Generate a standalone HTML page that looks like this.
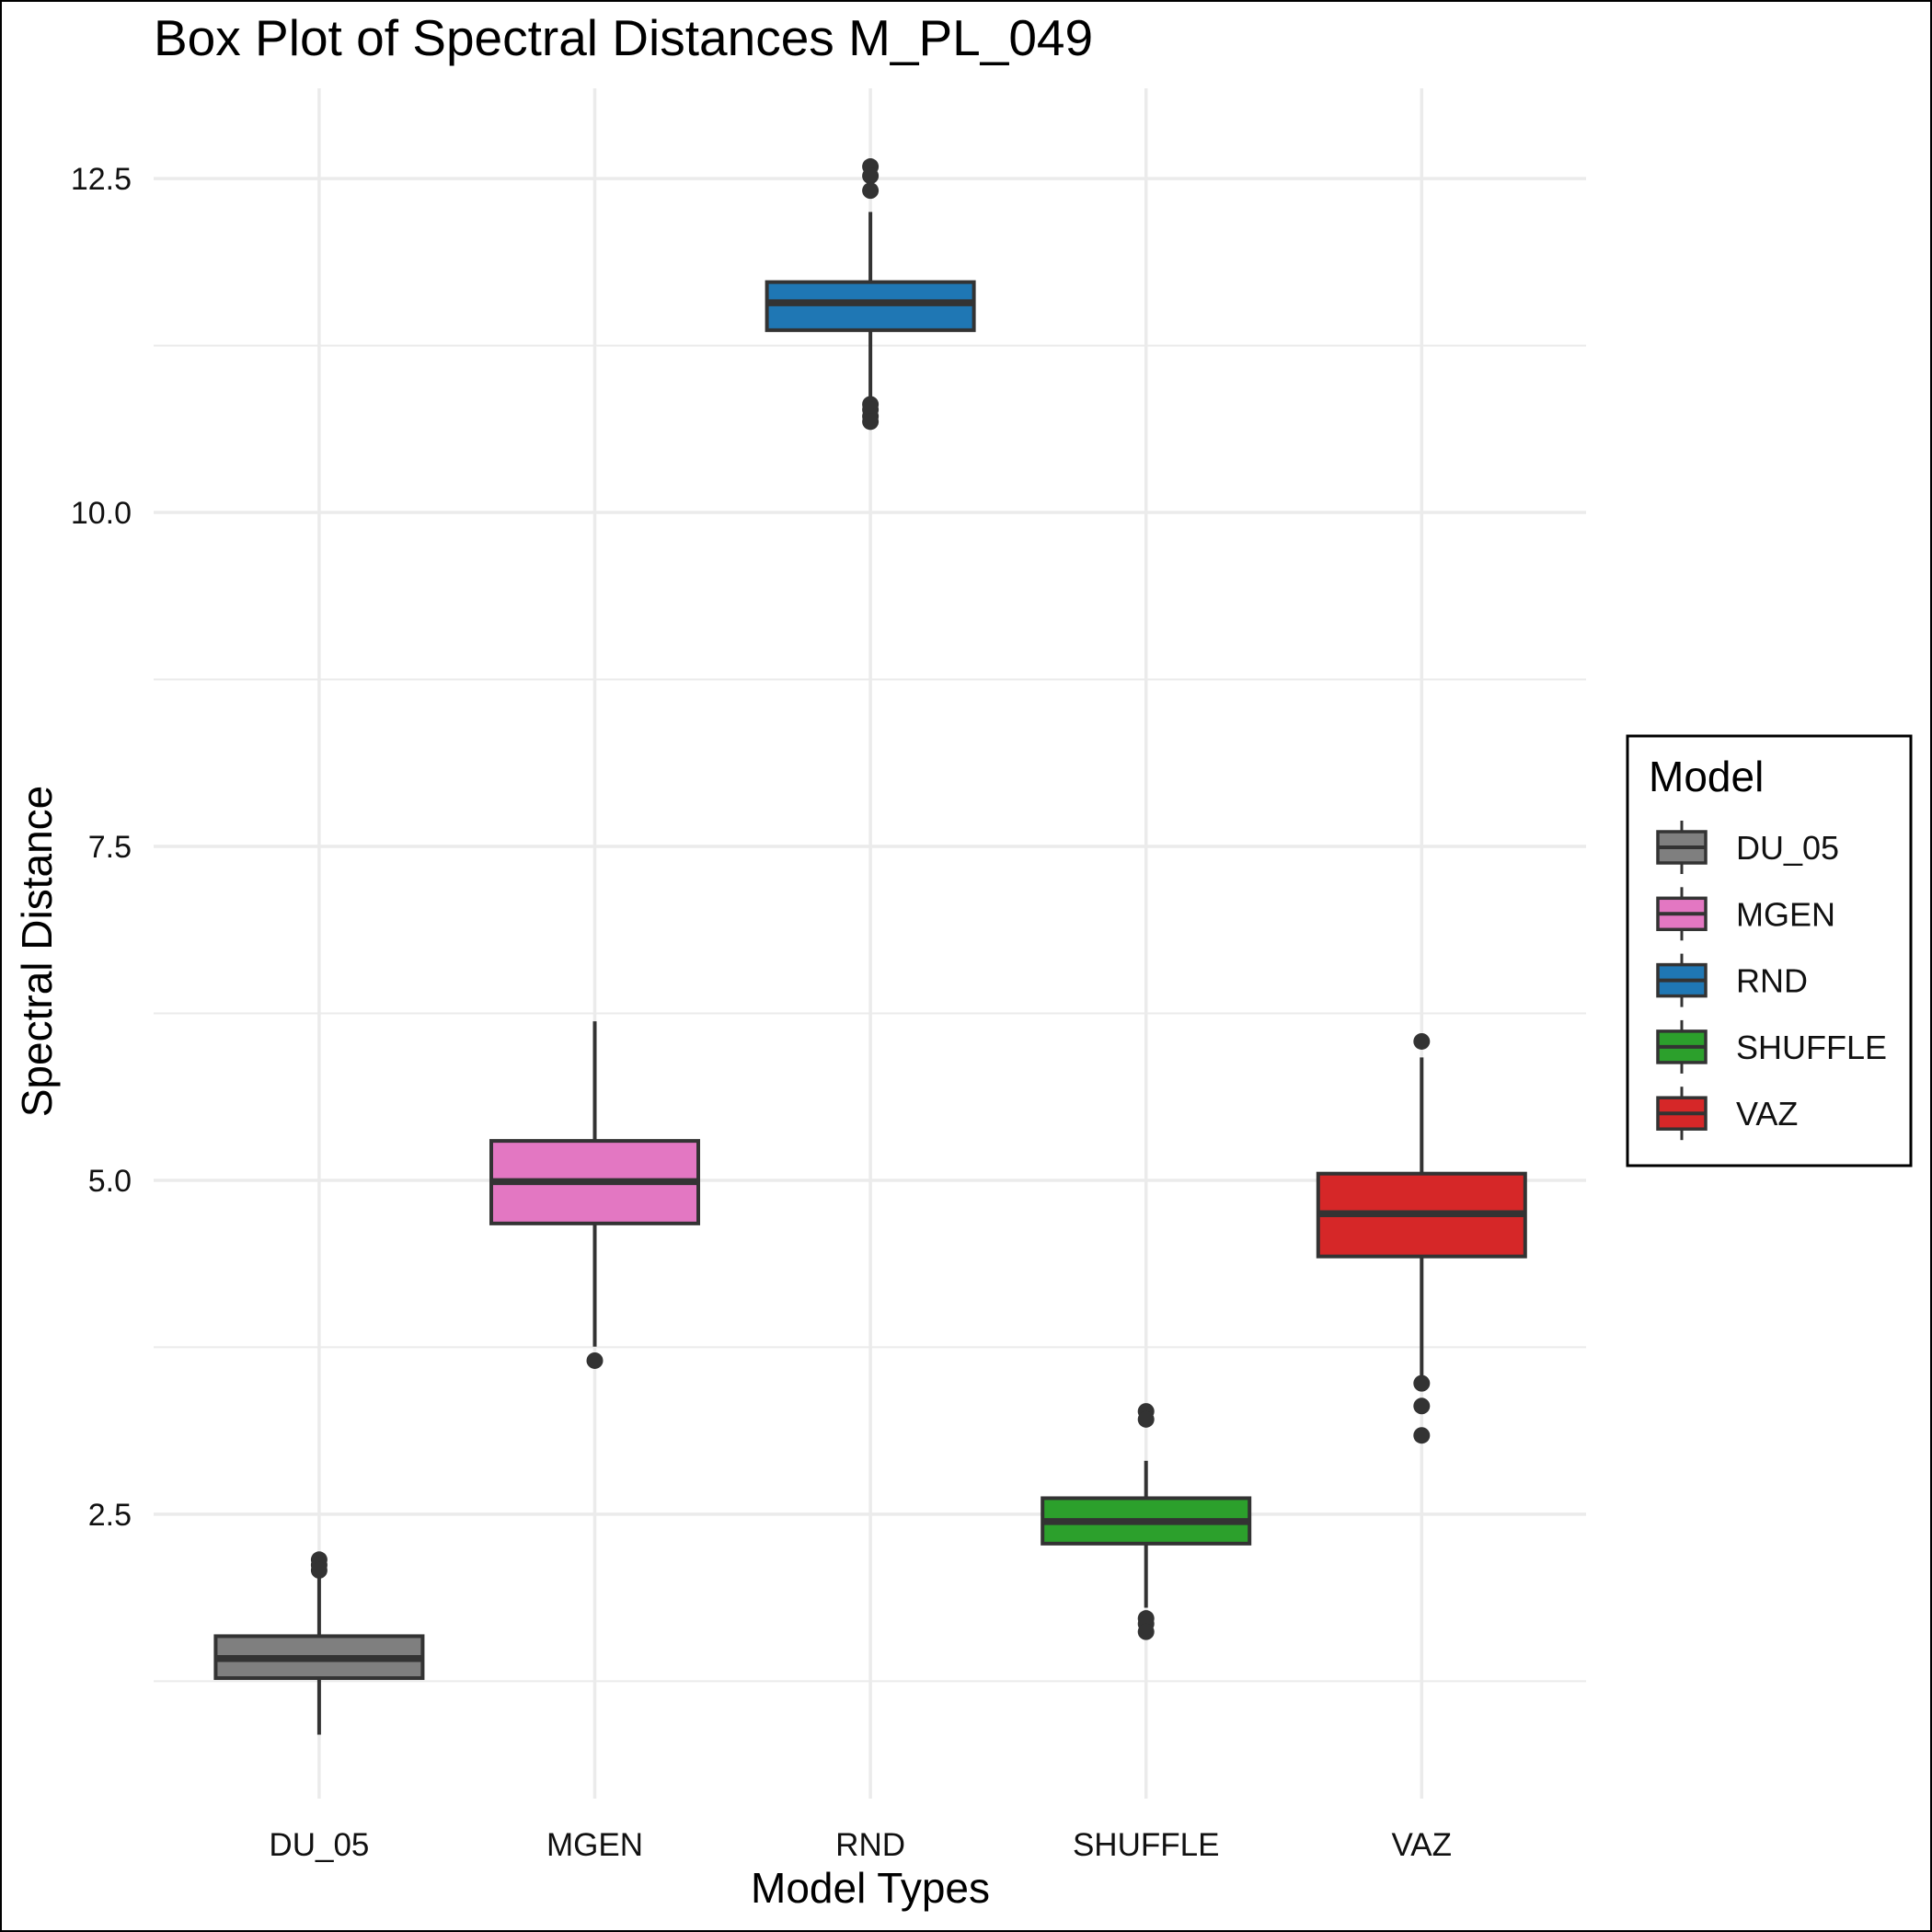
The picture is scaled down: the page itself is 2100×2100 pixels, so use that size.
<!DOCTYPE html>
<html><head><meta charset="utf-8"><style>
html,body{margin:0;padding:0;background:#fff}
svg{display:block;font-family:"Liberation Sans",Arial,sans-serif}
</style></head><body>
<svg id="chart" width="2100" height="2100" viewBox="0 0 2100 2100">
<rect x="1" y="1" width="2098" height="2098" fill="#fff" stroke="#000" stroke-width="2"/>
<text x="167" y="60" font-size="55" fill="#000">Box Plot of Spectral Distances M_PL_049</text>
<g id="grid"></g>
<g id="boxes"></g>
<text x="946" y="2068" font-size="46" text-anchor="middle">Model Types</text>
<text transform="translate(56,1034) rotate(-90)" font-size="46" text-anchor="middle">Spectral Distance</text>
<g id="legend">
<rect x="1769" y="800" width="308" height="467" fill="#fff" stroke="#000" stroke-width="3"/>
<text x="1792" y="860" font-size="46">Model</text>
</g>
</svg>
<script>
const categories=["DU_05","MGEN","RND","SHUFFLE","VAZ"];
const colors=["#7f7f7f","#e377c2","#1f77b4","#2ca02c","#d62728"];
const lowerWhisker=[0.85,3.755,10.86,1.80,3.49];
const q1=[1.273,4.677,11.365,2.28,4.43];
const median=[1.42,4.99,11.57,2.445,4.75];
const q3=[1.587,5.295,11.725,2.62,5.05];
const upperWhisker=[2.03,6.19,12.25,2.90,5.92];
const outliers=[[2.16,2.12,2.08],[3.65],[12.59,12.52,12.41,10.81,10.77,10.72,10.68],[3.27,3.21,1.72,1.68,1.62],[6.04,3.48,3.31,3.09]];
const yTicks=[2.5,5.0,7.5,10.0,12.5];
const yTickLabels=["2.5","5.0","7.5","10.0","12.5"];
const yMinor=[1.25,3.75,6.25,8.75,11.25];

const NS="http://www.w3.org/2000/svg";
const y=v=>1645.9-(v-2.5)*145.18;
const x=i=>346.9+i*299.6;
const L=167,R=1724,T=96,B=1955,BW=225;
function mk(tag,attrs,parent){const e=document.createElementNS(NS,tag);for(const k in attrs)e.setAttribute(k,attrs[k]);parent.appendChild(e);return e;}
const grid=document.getElementById('grid');
yMinor.forEach(v=>{const l=mk('line',{x1:L,x2:R,y1:y(v),y2:y(v),stroke:'#ebebeb','stroke-width':2},grid);

});
yTicks.forEach((v,i)=>{const l=mk('line',{x1:L,x2:R,y1:y(v),y2:y(v),stroke:'#ebebeb','stroke-width':3.5},grid);


const t=mk('text',{x:143,y:y(v)+12,'font-size':34,'text-anchor':'end',fill:'#111'},grid);t.textContent=yTickLabels[i];

});
categories.forEach((c,i)=>{const l=mk('line',{x1:x(i),x2:x(i),y1:T,y2:B,stroke:'#ebebeb','stroke-width':3.5},grid);


const t=mk('text',{x:x(i),y:2017,'font-size':35,'text-anchor':'middle',fill:'#111'},grid);t.textContent=c;

});
const boxes=document.getElementById('boxes');
categories.forEach((c,i)=>{
const g=mk('g',{},boxes);


const s='#333',w=4,cx=x(i);
mk('line',{x1:cx,x2:cx,y1:y(lowerWhisker[i]),y2:y(q1[i]),stroke:s,'stroke-width':w},g);
mk('line',{x1:cx,x2:cx,y1:y(upperWhisker[i]),y2:y(q3[i]),stroke:s,'stroke-width':w},g);
mk('rect',{x:cx-BW/2,y:y(q3[i]),width:BW,height:y(q1[i])-y(q3[i]),fill:colors[i],stroke:s,'stroke-width':w},g);
mk('line',{x1:cx-BW/2,x2:cx+BW/2,y1:y(median[i]),y2:y(median[i]),stroke:s,'stroke-width':7.5},g);
outliers[i].forEach(v=>{const p=mk('circle',{cx:cx,cy:y(v),r:9,fill:s},g);

});
});
const lg=document.getElementById('legend');
categories.forEach((c,i)=>{
const cy=921+i*72.3;
const g=mk('g',{},lg);


mk('line',{x1:1828,x2:1828,y1:cy-29,y2:cy+29,stroke:'#333','stroke-width':3},g);
mk('rect',{x:1802,y:cy-17,width:52,height:34,fill:colors[i],stroke:'#333','stroke-width':3.5},g);
mk('line',{x1:1802,x2:1854,y1:cy,y2:cy,stroke:'#333','stroke-width':4},g);
const t=mk('text',{x:1887,y:cy+13,'font-size':36,fill:'#111'},g);t.textContent=c;
});
</script>
</body></html>
